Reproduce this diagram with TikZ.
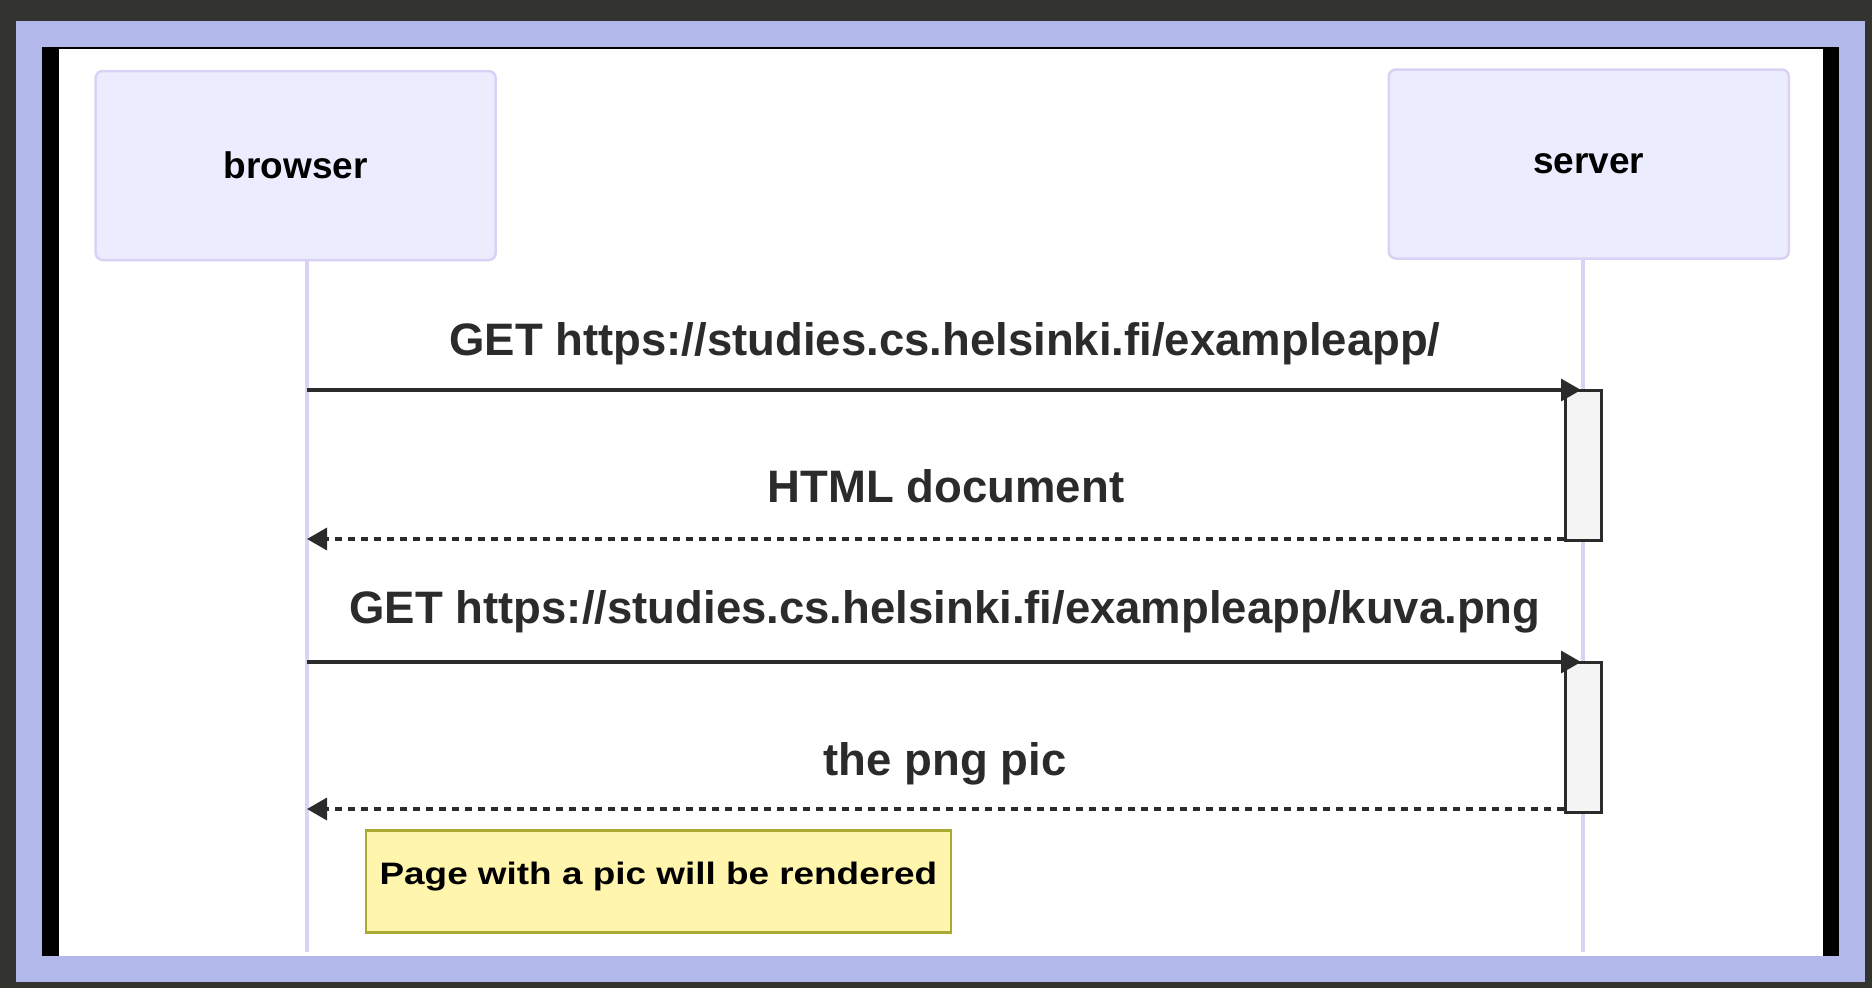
\documentclass[tikz,border=0pt]{standalone}
\usepackage{fontspec}
\setmainfont{Liberation Sans}
\usepackage{graphicx}
\usetikzlibrary{arrows.meta}
\definecolor{bgdark}{HTML}{33332F}
\definecolor{framepurple}{HTML}{B3B8EA}
\definecolor{actorfill}{HTML}{ECECFF}
\definecolor{actorline}{HTML}{DAD2F5}
\definecolor{msgcol}{HTML}{2B2B2B}
\definecolor{actfill}{HTML}{F4F4F4}
\definecolor{notefill}{HTML}{FFF5AD}
\definecolor{noteline}{HTML}{AAAA33}
\begin{document}
\begin{tikzpicture}[x=1pt,y=-1pt,
  actor/.style={draw=actorline, line width=2.5pt, fill=actorfill, rounded corners=7pt,
    minimum width=400pt, minimum height=189pt, inner sep=0pt, text=black,
    font=\bfseries\fontsize{37}{44}\selectfont},
  lifeline/.style={draw=actorline, line width=4pt},
  actbox/.style={draw=msgcol, line width=3pt, fill=actfill, minimum width=36pt,
    minimum height=150pt, inner sep=0pt},
  msgline/.style={draw=msgcol, line width=3.5pt, -{Triangle[length=20pt,width=22pt]}},
  retline/.style={msgline, dash pattern=on 6.5pt off 6.5pt},
  msgtext/.style={anchor=base, text=msgcol, inner sep=0pt,
    font=\bfseries\fontsize{45.5}{54}\selectfont},
  notebox/.style={draw=noteline, line width=2.5pt, fill=notefill, minimum width=585pt,
    minimum height=102pt, inner sep=0pt, text height=13pt, text depth=6.5pt, text=black,
    font=\bfseries\fontsize{31}{37}\selectfont},
  ]
\useasboundingbox (0,0) rectangle (1872,988);
% frame
\fill[bgdark] (0,0) rectangle (1872,988);
\fill[framepurple] (16,21) rectangle (1865,982);
\fill[black] (42,47) rectangle (1839,956);
\fill[white] (59,49) rectangle (1823,956);

% actors
\node[actor] (browser) at (295.7,165.5) {browser};
\node[actor] (server) at (1588.8,164) {server};

% lifelines
\coordinate (bEnd) at (307,952);
\coordinate (sEnd) at (1583,952);
\draw[lifeline] (browser.south -| bEnd) -- (bEnd);
\draw[lifeline] (server.south -| sEnd) -- (sEnd);

% activations
\node[actbox] (act1) at (1583,465) {};
\node[actbox] (act2) at (1583,737) {};

% messages
\coordinate (m1) at (307,390);
\coordinate (m3) at (307,662);
\coordinate (r1) at ([yshift=2.5pt]act1.south west);
\coordinate (r2) at ([yshift=4.5pt]act2.south west);

\draw[msgline, shorten >=2pt] (m1) -- (m1 -| act1.center);
\draw[retline] (r1) -- (r1 -| bEnd);
\draw[msgline, shorten >=2pt] (m3) -- (m3 -| act2.center);
\draw[retline] (r2) -- (r2 -| bEnd);

\node[msgtext] (t1) at (945,355) {GET https://studies.cs.helsinki.fi/exampleapp/};
\node[msgtext] (t2) at (946,502.7) {HTML document};
\node[msgtext] (t3) at (945,623.3) {GET https://studies.cs.helsinki.fi/exampleapp/kuva.png};
\node[msgtext] (t4) at (945,775) {the png pic};

% note
\node[notebox] (note) at (658.4,881.7) {\scalebox{1.19}[1]{Page with a pic will be rendered}};
\end{tikzpicture}
\end{document}
